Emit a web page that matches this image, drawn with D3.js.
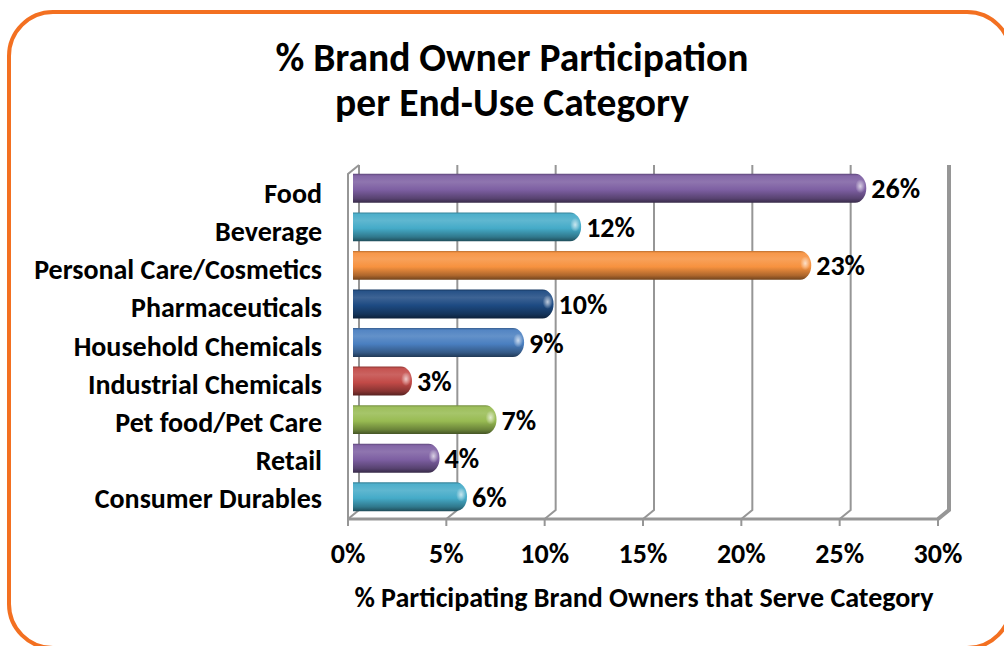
<!DOCTYPE html>
<html>
<head>
<meta charset="utf-8">
<script src="https://cdn.jsdelivr.net/npm/d3@7"></script>
<style>
  html, body { margin: 0; padding: 0; background: #ffffff; }
  svg { display: block; }
  text { font-family: Carlito, Calibri, "Open Sans", Lato, sans-serif; font-weight: 700; fill: #000; }
</style>
</head>
<body>
<svg id="chart" width="1004" height="646"></svg>
<script>
// Share of participating brand owners serving each end-use category (%)
const categories = [
  "Food", "Beverage", "Personal Care/Cosmetics", "Pharmaceuticals",
  "Household Chemicals", "Industrial Chemicals", "Pet food/Pet Care",
  "Retail", "Consumer Durables"
];
const values = [26.1, 11.6, 23.3, 10.2, 8.7, 3.0, 7.3, 4.4, 5.8];
const barColors = [
  "#7d5fa2", "#45abc8", "#f7923f", "#1d4a82", "#4a7fc0",
  "#c24a47", "#98bb52", "#7d5fa2", "#45abc8"
];
const tickValues = [0, 5, 10, 15, 20, 25, 30];
const titleLines = ["% Brand Owner Participation", "per End-Use Category"];
const axisTitle = "% Participating Brand Owners that Serve Category";

const svg = d3.select("#chart");
const defs = svg.append("defs");

// Rounded frame around the whole chart
svg.append("rect")
  .attr("x", 9).attr("y", 12).attr("width", 1002).attr("height", 636)
  .attr("rx", 44).attr("ry", 44)
  .attr("fill", "#fff").attr("stroke", "#f37021").attr("stroke-width", 4);

// Title
svg.append("g").selectAll("text").data(titleLines).join("text")
  .attr("x", 512).attr("y", (d, i) => 71 + i * 45)
  .attr("text-anchor", "middle")
  .style("font-size", "39.5px")
  .text(d => d);

// Scales: front plane of the 3-D plot box
const x = d3.scaleLinear().domain([0, 30]).range([348, 938]);
const y = d3.scaleBand().domain(categories)
  .range([169, 516]).paddingInner(0.25).paddingOuter(0.125);
// Category label baselines sit on the front face of the box
const yLabel = d3.scalePoint().domain(categories).range([203, 508]);

// Depth offset of the back wall relative to the front plane
const depth = { dx: 11, dy: -9 };
const wallTop = 174, floorY = 519;
const gridColor = "#969696";

const grid = svg.append("g");
// Back-wall gridlines and the floor connectors down to the front axis
tickValues.forEach(t => {
  const bx = x(t) + depth.dx;
  grid.append("path")
    .attr("d", `M${bx},${wallTop + depth.dy} V${floorY + depth.dy} L${x(t)},${floorY}`)
    .attr("fill", "none").attr("stroke", gridColor)
    .attr("stroke-width", t === 30 ? 4 : 2);
});
// Left side wall edge
grid.append("path")
  .attr("d", `M${x(0) + depth.dx},${wallTop + depth.dy} L${x(0)},${wallTop} V${floorY}`)
  .attr("fill", "none").attr("stroke", gridColor).attr("stroke-width", 2);
// Front edge of the floor with tick marks
grid.append("line")
  .attr("x1", x(0)).attr("x2", x(30)).attr("y1", floorY).attr("y2", floorY)
  .attr("stroke", gridColor).attr("stroke-width", 3);
grid.selectAll("line.tick").data(tickValues).join("line")
  .attr("class", "tick")
  .attr("x1", d => x(d)).attr("x2", d => x(d))
  .attr("y1", floorY).attr("y2", floorY + 7)
  .attr("stroke", gridColor).attr("stroke-width", 2);

// Cylinder shading: one vertical gradient per bar colour
function shade(c, k) {
  const col = d3.color(c);
  return k >= 0 ? d3.interpolateRgb(col, "#ffffff")(k) : d3.interpolateRgb(col, "#000000")(-k);
}
barColors.forEach((c, i) => {
  const g = defs.append("linearGradient").attr("id", "cyl" + i)
    .attr("x1", 0).attr("y1", 0).attr("x2", 0).attr("y2", 1);
  [[0, -0.25], [0.07, 0.05], [0.28, 0.14], [0.55, 0.0], [0.85, -0.3], [1, -0.55]]
    .forEach(([o, k]) => g.append("stop").attr("offset", o).attr("stop-color", shade(c, k)));
});
const glow = defs.append("radialGradient").attr("id", "capGlow");
glow.append("stop").attr("offset", 0).attr("stop-color", "#fff").attr("stop-opacity", 0.7);
glow.append("stop").attr("offset", 1).attr("stop-color", "#fff").attr("stop-opacity", 0);

// Bars sit half-way into the plot depth
const barShift = 5;
const capRx = 11;
const bars = svg.append("g").selectAll("g").data(values).join("g");
bars.append("path")
  .attr("d", (d, i) => {
    const y0 = y(categories[i]) - depth.dy / 2 - 4.5, h = y.bandwidth();
    const x0 = x(0) + barShift, xe = x(d) + barShift;
    return `M${x0},${y0} H${xe - capRx} A${capRx},${h / 2} 0 0 1 ${xe - capRx},${y0 + h} H${x0} Z`;
  })
  .attr("fill", (d, i) => `url(#cyl${i})`);
bars.append("ellipse")
  .attr("cx", (d) => x(d) + barShift - 6)
  .attr("cy", (d, i) => y(categories[i]) + y.bandwidth() / 2 - 2)
  .attr("rx", 5).attr("ry", 7)
  .attr("fill", "url(#capGlow)");

// Value labels at the bar ends
svg.append("g").selectAll("text").data(values).join("text")
  .attr("x", d => x(d) + barShift + 5)
  .attr("y", (d, i) => y(categories[i]) + y.bandwidth() / 2 + 10)
  .style("font-size", "28px")
  .text(d => d3.format(".0f")(d) + "%");

// Category labels on the left
svg.append("g").selectAll("text").data(categories).join("text")
  .attr("x", 322)
  .attr("y", d => yLabel(d))
  .attr("text-anchor", "end")
  .style("font-size", "28px")
  .text(d => d);

// Tick labels
svg.append("g").selectAll("text").data(tickValues).join("text")
  .attr("x", d => x(d)).attr("y", 563)
  .attr("text-anchor", "middle")
  .style("font-size", "28px")
  .text(d => d + "%");

// Axis title
svg.append("text")
  .attr("x", 644).attr("y", 607)
  .attr("text-anchor", "middle")
  .style("font-size", "28px")
  .text(axisTitle);
</script>
</body>
</html>
